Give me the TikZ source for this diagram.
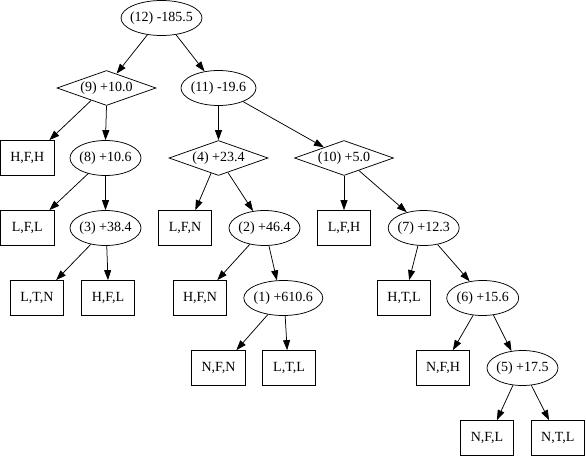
\documentclass[tikz,border=0pt]{standalone}
\usepackage{fontspec}
\setmainfont{Liberation Serif}
\usetikzlibrary{shapes.geometric,arrows.meta}
\begin{document}
\begin{tikzpicture}[x=1pt,y=-1pt,
  every node/.style={font=\fontsize{14pt}{16pt}\selectfont, line width=0.75pt},
  ell/.style={draw, ellipse, inner sep=-4pt, minimum height=35pt, minimum width=#1},
  ell/.default=71pt,
  dia/.style={draw, diamond, aspect=2.75, inner sep=0pt, minimum width=99pt, minimum height=35pt},
  leaf/.style={draw, rectangle, inner sep=0pt, minimum width=53.5pt, minimum height=35pt},
  edge/.style={draw, line width=0.75pt, -{Triangle[length=10pt,width=7pt]}}]
\useasboundingbox (0,0) rectangle (586,456);
% nodes
\node[ell=81pt] (n12) at (161.5,18) {(12) -185.5};
\node[dia] (n9) at (106.5,88) {(9) +10.0};
\node[ell=75pt] (n11) at (218.5,88) {(11) -19.6};
\node[leaf] (hfh) at (27.3,158) {H,F,H};
\node[ell] (n8) at (105.5,158) {(8) +10.6};
\node[dia] (n4) at (218.5,158) {(4) +23.4};
\node[dia] (n10) at (344,158) {(10) +5.0};
\node[leaf] (lfl) at (27.3,228) {L,F,L};
\node[ell] (n3) at (105.5,228) {(3) +38.4};
\node[leaf] (lfn) at (185,228) {L,F,N};
\node[ell] (n2) at (264.5,228) {(2) +46.4};
\node[leaf] (lfh) at (344,228) {L,F,H};
\node[ell] (n7) at (423.7,228) {(7) +12.3};
\node[leaf] (ltn) at (37,298) {L,T,N};
\node[leaf] (hfl) at (108,298) {H,F,L};
\node[leaf] (hfn) at (200,298) {H,F,N};
\node[ell=79pt] (n1) at (283.3,298) {(1) +610.6};
\node[leaf] (htl) at (404,298) {H,T,L};
\node[ell=72pt] (n6) at (482.7,298) {(6) +15.6};
\node[leaf] (nfn) at (218.5,368) {N,F,N};
\node[leaf] (ltl) at (289,368) {L,T,L};
\node[leaf] (nfh) at (443,368) {N,F,H};
\node[ell] (n5) at (522.5,368) {(5) +17.5};
\node[leaf] (nfl) at (487,438) {N,F,L};
\node[leaf] (ntl) at (557.8,438) {N,T,L};
% edges
\path[edge] (n12.-130.5) -- (n9.55.8);
\path[edge] (n12.-49.5) -- (n11.130.5);
\path[edge] (n9.-141.8) -- (hfh.39.3);
\path[edge] (n9.south) -- (n8.north);
\path[edge] (n11.south) -- (n4.north);
\path[edge] (n11.-29.5) -- (n10.152.4);
\path[edge] (n8.-138) -- (lfl.39.3);
\path[edge] (n8.south) -- (n3.north);
\path[edge] (n4.-116.6) -- (lfn.60.9);
\path[edge] (n4.-57.7) -- (n2.124);
\path[edge] (n10.south) -- (lfh.north);
\path[edge] (n10.-40.6) -- (n7.137.9);
\path[edge] (n3.-132.2) -- (ltn.43.5);
\path[edge] (n3.-86) -- (hfl.north);
\path[edge] (n2.-132.2) -- (hfn.46.6);
\path[edge] (n2.-76) -- (n1.110.3);
\path[edge] (n1.-133.7) -- (nfn.45.8);
\path[edge] (n1.-84.6) -- (ltl.96.3);
\path[edge] (n7.-108.5) -- (htl.74.5);
\path[edge] (n7.-50.3) -- (n6.128.4);
\path[edge] (n6.-119.7) -- (nfh.61);
\path[edge] (n6.-58.8) -- (n5.123.3);
\path[edge] (n5.-119.2) -- (nfl.61);
\path[edge] (n5.-63.4) -- (ntl.116.6);
\end{tikzpicture}
\end{document}
